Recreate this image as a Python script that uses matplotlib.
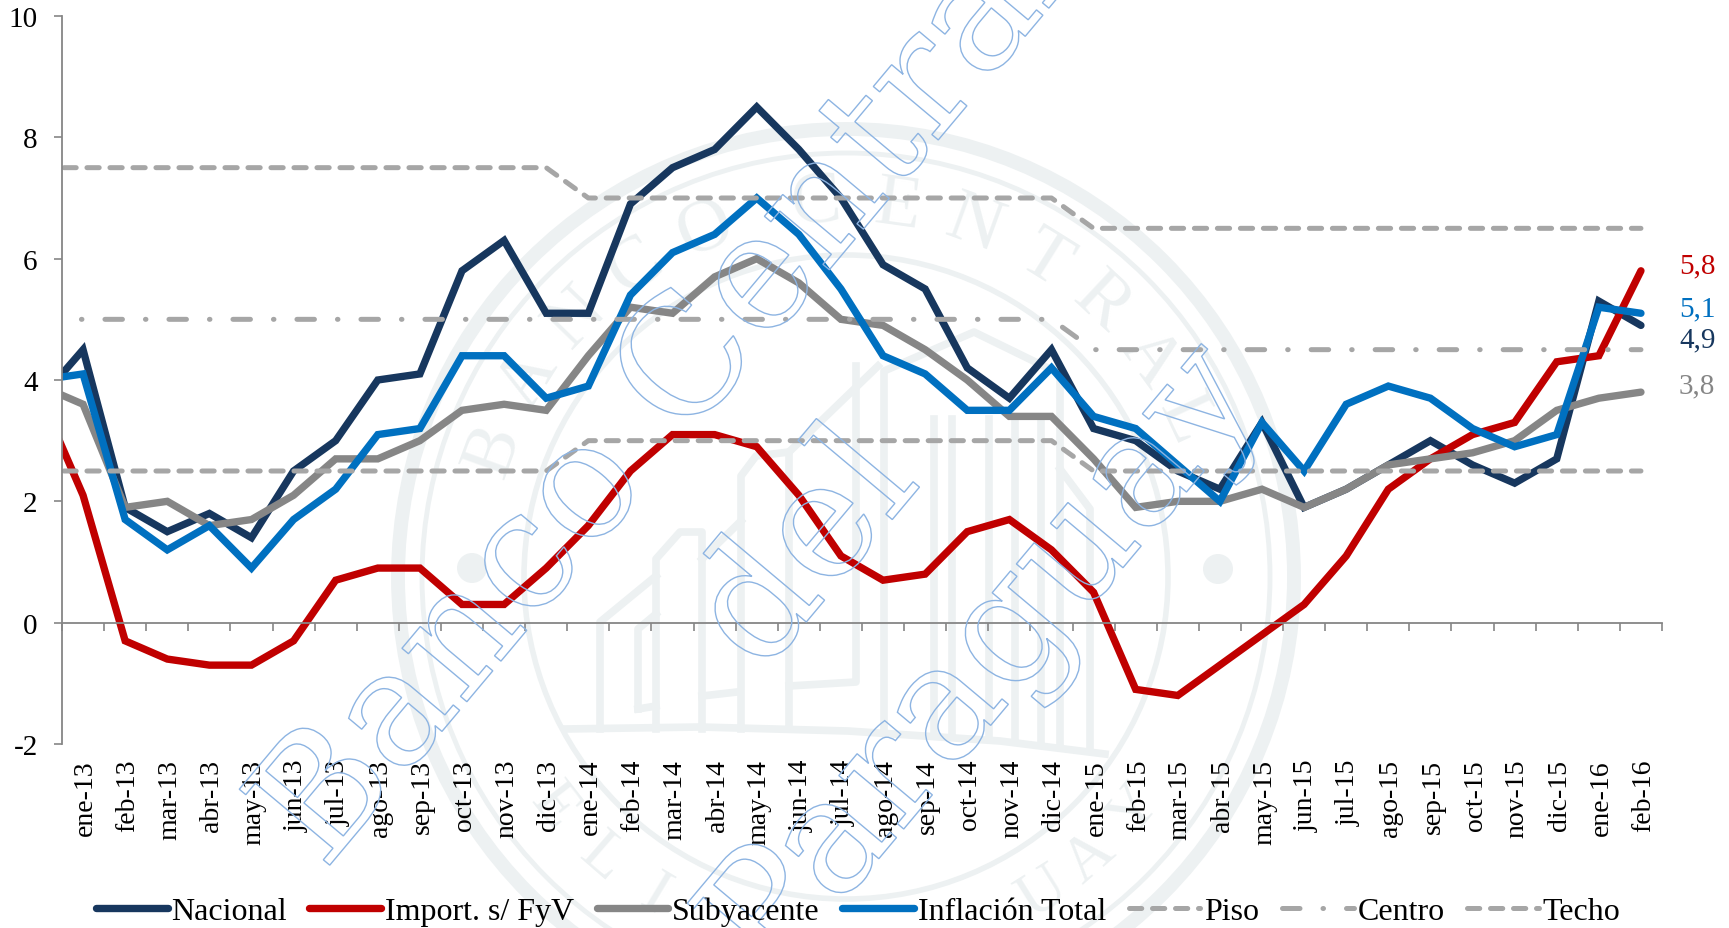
import numpy as np
import matplotlib
matplotlib.use("Agg")
import matplotlib.pyplot as plt
from matplotlib.patches import Circle, PathPatch
from matplotlib.textpath import TextPath
from matplotlib.font_manager import FontProperties
from matplotlib.transforms import Affine2D, blended_transform_factory

W, H = 1729, 929
plt.rcParams['font.family'] = ['Liberation Serif', 'DejaVu Serif']

meses = ['ene-13','feb-13','mar-13','abr-13','may-13','jun-13','jul-13','ago-13','sep-13','oct-13','nov-13','dic-13',
         'ene-14','feb-14','mar-14','abr-14','may-14','jun-14','jul-14','ago-14','sep-14','oct-14','nov-14','dic-14',
         'ene-15','feb-15','mar-15','abr-15','may-15','jun-15','jul-15','ago-15','sep-15','oct-15','nov-15','dic-15',
         'ene-16','feb-16']

# first value of each series is dic-12, it gets clipped by the axis
nacional = [3.7, 4.5,1.9,1.5,1.8,1.4,2.5,3.0,4.0,4.1,5.8,6.3,5.1,
            5.1,6.9,7.5,7.8,8.5,7.8,7.0,5.9,5.5,4.2,3.7,4.5,
            3.2,3.0,2.5,2.2,3.3,1.9,2.2,2.6,3.0,2.6,2.3,2.7,
            5.3,4.9]
importados = [3.7, 2.1,-0.3,-0.6,-0.7,-0.7,-0.3,0.7,0.9,0.9,0.3,0.3,0.9,
              1.6,2.5,3.1,3.1,2.9,2.1,1.1,0.7,0.8,1.5,1.7,1.2,
              0.5,-1.1,-1.2,-0.7,-0.2,0.3,1.1,2.2,2.7,3.1,3.3,4.3,
              4.4,5.8]
subyacente = [3.9, 3.6,1.9,2.0,1.6,1.7,2.1,2.7,2.7,3.0,3.5,3.6,3.5,
              4.4,5.2,5.1,5.7,6.0,5.6,5.0,4.9,4.5,4.0,3.4,3.4,
              2.7,1.9,2.0,2.0,2.2,1.9,2.2,2.6,2.7,2.8,3.0,3.5,
              3.7,3.8]
inflacion = [4.0, 4.1,1.7,1.2,1.6,0.9,1.7,2.2,3.1,3.2,4.4,4.4,3.7,
             3.9,5.4,6.1,6.4,7.0,6.4,5.5,4.4,4.1,3.5,3.5,4.2,
             3.4,3.2,2.6,2.0,3.3,2.5,3.6,3.9,3.7,3.2,2.9,3.1,
             5.2,5.1]
piso = [2.5]*13 + [3.0]*12 + [2.5]*14
centro = [5.0]*25 + [4.5]*14
techo = [7.5]*13 + [7.0]*12 + [6.5]*14

finales = ['5,8', '5,1', '4,9', '3,8']

x = np.arange(-1, 38)

azul_osc = '#17375e'
rojo = '#c00000'
gris = '#868686'
azul = '#0070c0'
gris_c = '#a6a6a6'
sello = '#edf1f2'
marca = '#8db4e2'


def px_axes(z):
    a = fig.add_axes([0, 0, 1, 1], zorder=z)
    a.set_xlim(0, W)
    a.set_ylim(H, 0)
    a.axis('off')
    a.patch.set_alpha(0)
    return a


fig = plt.figure(figsize=(W/100, H/100), dpi=100, facecolor='w')

# seal behind the chart
bg = px_axes(0)
cx, cy = 846, 578
for r, lw in [(448, 10), (424, 3.5), (322, 4)]:
    bg.add_patch(Circle((cx, cy), r, fill=False, ec=sello, lw=lw))
bg.add_patch(Circle((472, 569), 15, fc=sello, ec='none'))
bg.add_patch(Circle((1218, 570), 15, fc=sello, ec='none'))

arriba = [('B',-70),('A',-58),('N',-46),('C',-34),('O',-22),('C',-4.5),('E',8),('N',20),('T',32),('R',43),('A',54),('L',65)]
for letra, ang in arriba:
    t = np.radians(ang)
    bg.text(cx+374*np.sin(t), cy-374*np.cos(t), letra, rotation=-ang, rotation_mode='anchor',
            ha='center', va='center', fontsize=54, color=sello)
abajo = [('E',-52),('L',-41),('I',-31),('U',32),('A',41),('Y',51)]
for letra, ang in abajo:
    t = np.radians(ang)
    bg.text(cx+372*np.sin(t), cy+372*np.cos(t), letra, rotation=ang, rotation_mode='anchor',
            ha='center', va='center', fontsize=46, color=sello)

# building, only roughly
edificio = [
    [(600,730),(600,623),(656,577)],
    [(656,730),(656,560),(680,533),(702,533),(702,730)],
    [(702,560),(741,522)],
    [(741,730),(741,477),(756,457),(789,453),(789,730)],
    [(789,453),(878,367)],
    [(638,710),(638,630),(656,615)],[(638,710),(656,707)],
    [(702,697),(737,693)],
    [(789,687),(856,683),(856,367)],
    [(884,730),(884,372),(974,333),(1060,375),(1060,745)],
    [(934,735),(934,420)],[(952,735),(952,420)],[(989,738),(989,420)],
    [(1015,740),(1015,420)],[(1041,742),(1041,420)],
    [(1060,470),(1090,510),(1090,752)],
    [(565,730),(700,728),(848,732),(1000,742),(1105,755)],
]
for e in edificio:
    ex, ey = zip(*e)
    bg.plot(ex, ey, color=sello, lw=5.5, solid_joinstyle='round')

# chart
ax = fig.add_axes([62/W, 1-745/H, (1662-62)/W, (745-17)/H], zorder=1)
ax.patch.set_alpha(0)
ax.set_xlim(-0.5, 37.5)
ax.set_ylim(-2, 10)

ax.plot(x, nacional, color=azul_osc, lw=5.3, solid_capstyle='round', solid_joinstyle='miter', label='Nacional')
ax.plot(x, importados, color=rojo, lw=5.3, solid_capstyle='round', solid_joinstyle='miter', label='Import. s/ FyV')
ax.plot(x, subyacente, color=gris, lw=5.3, solid_capstyle='round', solid_joinstyle='miter', label='Subyacente')
ax.plot(x, inflacion, color=azul, lw=5.3, solid_capstyle='round', solid_joinstyle='miter', label='Inflación Total')
ax.plot(x, piso, color=gris_c, lw=3.6, ls=(0, (2.45, 2.15)), dash_capstyle='round', label='Piso')
ax.plot(x, centro, color=gris_c, lw=3.6, ls=(0, (3.5, 4.6, 0.1, 4.6)), dash_capstyle='round', label='Centro')
ax.plot(x, techo, color=gris_c, lw=3.6, ls=(0, (2.45, 2.15)), dash_capstyle='round', label='Techo')

for s in ['top', 'right']:
    ax.spines[s].set_visible(False)
ax.spines['bottom'].set_position(('data', 0))
ax.spines['bottom'].set_color(gris)
ax.spines['left'].set_color(gris)
ax.spines['bottom'].set_linewidth(1.3)
ax.spines['left'].set_linewidth(1.3)

ax.set_xticks(np.arange(-0.5, 38, 1))
ax.set_xticklabels([])
ax.set_yticks(np.arange(-2, 11, 2))
ax.set_yticklabels(['-2', '0', '2', '4', '6', '8', '10'])
ax.tick_params(axis='x', direction='out', length=5.5, width=1.2, color=gris)
ax.tick_params(axis='y', direction='out', length=5.5, width=1.2, color=gris, labelsize=21, pad=12)

trans = blended_transform_factory(ax.transData, fig.transFigure)
for i, m in enumerate(meses):
    ax.text(i+0.06, 1-760/H, m, transform=trans, rotation=90, ha='center', va='top', fontsize=20, clip_on=False)

fig.legend(*ax.get_legend_handles_labels(), loc='center', bbox_to_anchor=(858/W, 1-912/H), ncol=7, frameon=False,
           fontsize=23, handlelength=2.25, handletextpad=0.12, columnspacing=0.7, borderpad=0)

# outline watermark and end labels on top
fg = px_axes(2)
fg.set_ylim(0, H)
fuente = FontProperties(family='DejaVu Serif')
for texto, px, py in [('Banco Central', 324, 873), ('del', 761, 677), ('Paraguay', 772, 987)]:
    tp = TextPath((0, 0), texto, size=162, prop=fuente)
    tr = Affine2D().rotate_deg(50).translate(px, H-py)
    fg.add_patch(PathPatch(tp, transform=tr+fg.transData, fc='none', ec=marca, lw=1))

for txt, col, yy in zip(finales, [rojo, azul, azul_osc, gris], [266, 309, 340, 386]):
    fg.text(1679, H-yy, txt, color=col, fontsize=21, ha='left', va='center')

fig.savefig('out.png', dpi=100)
